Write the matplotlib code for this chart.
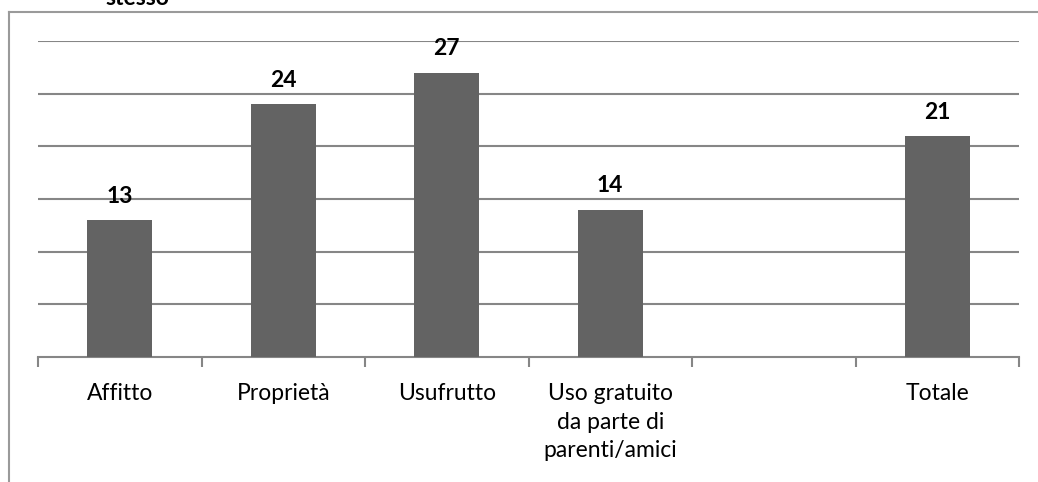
import numpy as np
import matplotlib.pyplot as plt
from matplotlib.lines import Line2D

# data
categories = ["Affitto", "Proprietà", "Usufrutto",
              "Uso gratuito\nda parte di\nparenti/amici", "", "Totale"]
values = [13, 24, 27, 14, None, 21]

plt.rcParams['font.family'] = ['Lato', 'DejaVu Sans']

fig = plt.figure(figsize=(10.38, 4.82), dpi=100)
ax = fig.add_axes([38 / 1038, 1 - 357 / 482, (1019 - 38) / 1038, (357 - 41) / 482])

grid_col = "#868686"
bar_col = "#636363"

x = np.arange(len(categories))
for xi, v in zip(x, values):
    if v is None:
        continue
    ax.bar(xi, v, width=0.4, color=bar_col, zorder=3)
    ax.annotate(str(v), (xi, v), xytext=(0, 17), textcoords="offset points",
                ha="center", va="center", fontsize=16.5, fontweight="bold")

ax.set_xlim(-0.5, len(categories) - 0.5)
ax.set_ylim(0, 30)
ax.set_yticks(np.arange(5, 31, 5))
ax.yaxis.grid(True, color=grid_col, linewidth=1.5)
ax.tick_params(axis="y", length=0, labelleft=False)

ax.set_xticks(x)
ax.set_xticklabels(categories, fontsize=16.5, linespacing=1.42, va="top")
ax.set_xticks(np.arange(-0.5, len(categories), 1), minor=True)
ax.tick_params(axis="x", which="major", length=0, pad=19)
ax.tick_params(axis="x", which="minor", length=7, width=1.5, color=grid_col)

for s in ["top", "right", "left"]:
    ax.spines[s].set_visible(False)
ax.spines["bottom"].set_color(grid_col)
ax.spines["bottom"].set_linewidth(1.5)
ax.set_axisbelow(True)

# outer frame pieces of the chart area
fig.add_artist(Line2D([9 / 1038, 1], [1 - 12 / 482] * 2, color="#9a9a9a", lw=1.5,
                      transform=fig.transFigure))
fig.add_artist(Line2D([9 / 1038] * 2, [0, 1 - 12 / 482], color="#9a9a9a", lw=1.5,
                      transform=fig.transFigure))

# title, cut off at the top as in the source
fig.text(137 / 1038, 1 - 5 / 482, "stesso", ha="center", va="baseline",
         fontsize=16.5, fontweight="bold")

fig.savefig("out.png", dpi=100)
